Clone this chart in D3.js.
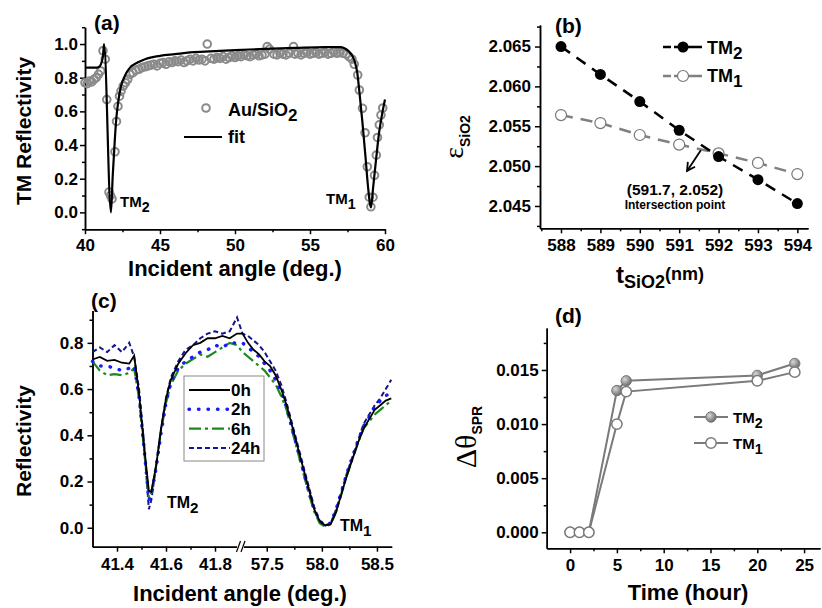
<!DOCTYPE html>
<html>
<head>
<meta charset="utf-8">
<script src="https://cdn.jsdelivr.net/npm/d3@7"></script>
<style>
  body { margin: 0; background: #fff; }
  svg text { font-family: "Liberation Sans", Arial, sans-serif; font-weight: bold; fill: #000; }
  .axis path, .axis line { stroke: #000; stroke-width: 1.5; }
  .axis text { font-size: 17px; font-weight: bold; font-family: "Liberation Sans", Arial, sans-serif; }
</style>
</head>
<body>
<div id="chart"></div>
<script>
// ---- (a) TM reflectivity, Au/SiO2 measured points and fit ----
var aAngle = [40.0, 40.15, 40.3, 40.45, 40.6, 40.75, 40.9, 41.05, 41.2, 41.35, 41.45, 41.6, 41.7, 41.8,
  42.0, 42.1, 42.2, 42.3, 42.4, 42.55, 42.7, 42.85,
  43.0, 43.2, 43.4, 43.6, 43.8, 44.0, 44.2, 44.4, 44.6, 44.8, 45.0, 45.2, 45.4, 45.6, 45.8,
  46.0, 46.2, 46.4, 46.6, 46.8, 47.0, 47.2, 47.4, 47.6, 47.8, 48.0, 48.15, 48.4, 48.6, 48.8,
  49.0, 49.2, 49.4, 49.6, 49.8, 50.0, 50.2, 50.4, 50.6, 50.8, 51.0, 51.2, 51.4, 51.6, 51.8,
  52.0, 52.15, 52.3, 52.6, 52.8, 53.0, 53.2, 53.4, 53.6, 53.9, 54.0, 54.2, 54.4, 54.6, 54.8,
  55.0, 55.2, 55.4, 55.6, 55.8, 56.0, 56.2, 56.4, 56.6, 56.8, 57.0, 57.2, 57.4, 57.6, 57.8,
  57.95, 58.18, 58.29, 58.5, 58.67, 58.82, 58.95, 59.06, 59.2, 59.3, 59.42, 59.5, 59.62, 59.73, 59.85];
var aRefl = [0.77, 0.765, 0.78, 0.775, 0.79, 0.80, 0.82, 0.84, 0.96, 0.91, 0.67, 0.12, 0.10, 0.08,
  0.36, 0.54, 0.63, 0.69, 0.72, 0.75, 0.77, 0.79,
  0.82, 0.83, 0.845, 0.85, 0.86, 0.865, 0.87, 0.875, 0.88, 0.87, 0.885, 0.89, 0.88, 0.895, 0.89,
  0.90, 0.895, 0.905, 0.89, 0.90, 0.91, 0.90, 0.915, 0.905, 0.91, 0.90, 1.0, 0.915, 0.91, 0.92,
  0.915, 0.925, 0.91, 0.92, 0.93, 0.92, 0.93, 0.925, 0.935, 0.93, 0.925, 0.935, 0.94, 0.93, 0.935,
  0.94, 0.985, 0.97, 0.94, 0.935, 0.945, 0.94, 0.935, 0.945, 0.985, 0.94, 0.945, 0.935, 0.945, 0.95,
  0.94, 0.945, 0.95, 0.94, 0.945, 0.95, 0.94, 0.945, 0.955, 0.945, 0.95, 0.945, 0.94, 0.925, 0.91,
  0.88, 0.816, 0.727, 0.618, 0.473, 0.271, 0.09, 0.033, 0.09, 0.22, 0.34, 0.445, 0.52, 0.578, 0.62];
var fitAngle = [40.0, 40.5, 40.8, 41.0, 41.1, 41.2, 41.27, 41.73, 41.85, 42.0, 42.1, 42.22, 42.4, 42.6,
  42.8, 43.0, 43.5, 44.0, 45.0, 46.0, 47.0, 48.0, 50.0, 52.0, 54.0, 56.0, 57.0, 57.3, 57.6, 57.85,
  58.0, 58.15, 58.3, 58.5, 58.7, 58.85, 59.0, 59.07, 59.2, 59.4, 59.6, 59.8, 60.0];
var fitRefl = [0.86, 0.86, 0.86, 0.87, 0.89, 0.93, 1.0, 0.0, 0.22, 0.45, 0.57, 0.66, 0.75, 0.80,
  0.835, 0.86, 0.89, 0.91, 0.93, 0.94, 0.95, 0.955, 0.964, 0.971, 0.977, 0.982, 0.982, 0.975, 0.955, 0.925,
  0.89, 0.83, 0.71, 0.53, 0.33, 0.17, 0.05, 0.03, 0.14, 0.31, 0.47, 0.58, 0.67];

// ---- (b) permittivity vs SiO2 thickness ----
var bThick = [588, 589, 590, 591, 592, 593, 594];
var bTM2 = [2.0650, 2.0615, 2.0581, 2.0545, 2.0512, 2.0483, 2.0453];
var bTM1 = [2.0564, 2.0554, 2.0539, 2.0527, 2.0516, 2.0504, 2.0490];
var bArrow = [[591.55, 2.0520], [591.2, 2.0494]];

// ---- (c) reflectivity over time ----
var cAngle = [41.30, 41.33, 41.36, 41.39, 41.42, 41.45, 41.47, 41.49, 41.51, 41.53, 41.54, 41.56, 41.58, 41.60,
  41.62, 41.65, 41.68, 41.71, 41.74, 41.77, 41.80, 41.83, 41.86, 41.89,
  57.28, 57.33, 57.38, 57.43, 57.48, 57.53, 57.58, 57.63, 57.68, 57.73, 57.78, 57.83, 57.88, 57.93,
  57.98, 58.03, 58.08, 58.13, 58.18, 58.23, 58.28, 58.33, 58.38, 58.43, 58.48, 58.53, 58.58, 58.63];
var c0h = [0.728, 0.739, 0.722, 0.726, 0.714, 0.710, 0.745, 0.58, 0.36, 0.16, 0.155, 0.27, 0.43, 0.56,
  0.64, 0.71, 0.755, 0.79, 0.80, 0.82, 0.82, 0.83, 0.82, 0.84,
  0.84, 0.80, 0.77, 0.75, 0.72, 0.70, 0.66, 0.60, 0.53, 0.44, 0.35, 0.26, 0.17, 0.08,
  0.03, 0.01, 0.015, 0.07, 0.15, 0.23, 0.30, 0.37, 0.43, 0.47, 0.51, 0.53, 0.55, 0.56];
var c2h = [0.72, 0.70, 0.70, 0.69, 0.68, 0.69, 0.70, 0.57, 0.35, 0.12, 0.14, 0.26, 0.41, 0.54,
  0.63, 0.69, 0.72, 0.74, 0.76, 0.77, 0.79, 0.78, 0.80, 0.80,
  0.80, 0.78, 0.76, 0.74, 0.71, 0.68, 0.64, 0.59, 0.52, 0.43, 0.34, 0.25, 0.16, 0.08,
  0.03, 0.01, 0.02, 0.08, 0.16, 0.24, 0.31, 0.38, 0.44, 0.48, 0.52, 0.55, 0.57, 0.59];
var c6h = [0.72, 0.68, 0.66, 0.665, 0.66, 0.67, 0.69, 0.56, 0.34, 0.13, 0.15, 0.27, 0.42, 0.54,
  0.62, 0.68, 0.71, 0.73, 0.75, 0.74, 0.76, 0.78, 0.80, 0.79,
  0.76, 0.74, 0.72, 0.70, 0.68, 0.65, 0.62, 0.57, 0.51, 0.42, 0.33, 0.24, 0.15, 0.07,
  0.02, 0.005, 0.015, 0.07, 0.15, 0.23, 0.30, 0.37, 0.43, 0.46, 0.49, 0.51, 0.53, 0.55];
var c24h = [0.76, 0.78, 0.76, 0.79, 0.76, 0.80, 0.74, 0.60, 0.37, 0.08, 0.12, 0.27, 0.43, 0.56,
  0.65, 0.72, 0.77, 0.79, 0.82, 0.84, 0.85, 0.84, 0.85, 0.91,
  0.84, 0.83, 0.81, 0.79, 0.76, 0.72, 0.68, 0.62, 0.54, 0.45, 0.36, 0.27, 0.18, 0.09,
  0.03, 0.01, 0.02, 0.08, 0.16, 0.24, 0.31, 0.38, 0.45, 0.49, 0.53, 0.56, 0.60, 0.64];
var cLabels = ["0h", "2h", "6h", "24h"];

// ---- (d) SPR angle shift vs time ----
var dTime = [0, 1, 2, 5, 6, 20, 24];
var dTM2 = [0, 0, 0, 0.0131, 0.0140, 0.0145, 0.0156];
var dTM1 = [0, 0, 0, 0.0100, 0.0130, 0.0140, 0.0148];

var svg = d3.select("#chart").append("svg")
  .attr("width", 822)
  .attr("height", 608);

var defs = svg.append("defs");
var grad = defs.append("radialGradient").attr("id", "ball").attr("cx", "35%").attr("cy", "35%").attr("r", "65%");
grad.append("stop").attr("offset", "0%").attr("stop-color", "#d8d8d8");
grad.append("stop").attr("offset", "100%").attr("stop-color", "#6e6e6e");

// left + bottom axes, major ticks labelled, minor ticks blank
function drawAxes(x, y, o) {
  var yb = y.range()[0], xl = x.range()[0];
  var gx = svg.append("g").attr("class", "axis").attr("transform", "translate(0," + yb + ")");
  gx.call(d3.axisBottom(x).tickValues(o.xMinor).tickSize(3).tickSizeOuter(0).tickFormat(""));
  gx.append("g").call(d3.axisBottom(x).tickValues(o.xMajor).tickSize(5).tickSizeOuter(0)
    .tickPadding(o.xPad).tickFormat(o.xFmt));
  var gy = svg.append("g").attr("class", "axis").attr("transform", "translate(" + xl + ",0)");
  gy.call(d3.axisLeft(y).tickValues(o.yMinor).tickSize(3).tickSizeOuter(0).tickFormat(""));
  gy.append("g").call(d3.axisLeft(y).tickValues(o.yMajor).tickSize(5).tickSizeOuter(0)
    .tickPadding(o.yPad).tickFormat(o.yFmt));
}

// "TM" with subscript
function tmLabel(x, y, sub, size, color) {
  var t = svg.append("text").attr("x", x).attr("y", y).style("font-size", size + "px")
    .style("fill", color || "#000");
  t.append("tspan").text("TM");
  t.append("tspan").attr("dy", size * 0.3).style("font-size", (size * 0.95) + "px").text(sub);
  return t;
}

function panelLabel(x, y, s) {
  svg.append("text").attr("x", x).attr("y", y).style("font-size", "21px").text(s);
}

//================ (a) ================
var xa = d3.scaleLinear().domain([40, 60]).range([85, 385]);
var ya = d3.scaleLinear().domain([-0.1, 1.1]).range([229.2, 27.2]);
drawAxes(xa, ya, {
  xMajor: [40, 45, 50, 55, 60], xMinor: [42.5, 47.5, 52.5, 57.5], xFmt: d3.format("d"), xPad: 5,
  yMajor: [0, 0.2, 0.4, 0.6, 0.8, 1.0], yMinor: [-0.1, 0.1, 0.3, 0.5, 0.7, 0.9, 1.1], yFmt: d3.format(".1f"), yPad: 2
});
svg.append("g").selectAll("circle")
  .data(aAngle.map(function(d, i) { return [d, aRefl[i]]; }))
  .enter().append("circle")
  .attr("cx", function(d) { return xa(d[0]); })
  .attr("cy", function(d) { return ya(d[1]); })
  .attr("r", 3.8)
  .attr("fill", "none")
  .attr("stroke", "#8a8a8a")
  .attr("stroke-width", 2);
svg.append("path")
  .datum(fitAngle.map(function(d, i) { return [d, fitRefl[i]]; }))
  .attr("d", d3.line().x(function(d) { return xa(d[0]); }).y(function(d) { return ya(d[1]); })
    .curve(d3.curveMonotoneX))
  .attr("fill", "none").attr("stroke", "#000").attr("stroke-width", 2.2);
// legend (a)
svg.append("circle").attr("cx", 206).attr("cy", 108).attr("r", 3.8)
  .attr("fill", "none").attr("stroke", "#8a8a8a").attr("stroke-width", 2);
var la = svg.append("text").attr("x", 228).attr("y", 116).style("font-size", "18px");
la.append("tspan").text("Au/SiO");
la.append("tspan").attr("dy", 5).style("font-size", "17px").text("2");
svg.append("line").attr("x1", 184).attr("x2", 222).attr("y1", 137).attr("y2", 137)
  .attr("stroke", "#000").attr("stroke-width", 2.2);
svg.append("text").attr("x", 228).attr("y", 143).style("font-size", "18px").text("fit");
tmLabel(120, 207, "2", 15);
tmLabel(326, 204, "1", 15);
svg.append("text").attr("transform", "translate(31,131) rotate(-90)")
  .attr("text-anchor", "middle").style("font-size", "21px").text("TM Reflectivity");
svg.append("text").attr("x", 235).attr("y", 276).attr("text-anchor", "middle")
  .style("font-size", "22px").text("Incident angle (deg.)");
panelLabel(94, 30, "(a)");

//================ (b) ================
var xb = d3.scaleLinear().domain([587.467, 594.27]).range([540, 808]);
var yb = d3.scaleLinear().domain([2.0422, 2.0677]).range([228.3, 25]);
drawAxes(xb, yb, {
  xMajor: bThick, xMinor: [587.5, 588.5, 589.5, 590.5, 591.5, 592.5, 593.5], xFmt: d3.format("d"), xPad: 6,
  yMajor: [2.045, 2.05, 2.055, 2.06, 2.065], yMinor: [2.0425, 2.0475, 2.0525, 2.0575, 2.0625, 2.0675],
  yFmt: d3.format(".3f"), yPad: 4
});
var lineB = d3.line().x(function(d) { return xb(d[0]); }).y(function(d) { return yb(d[1]); });
var b2 = bThick.map(function(d, i) { return [d, bTM2[i]]; });
var b1 = bThick.map(function(d, i) { return [d, bTM1[i]]; });
svg.append("path").datum(b1).attr("d", lineB).attr("fill", "none")
  .attr("stroke", "#808080").attr("stroke-width", 2.5).attr("stroke-dasharray", "12 8");
svg.append("path").datum(b2).attr("d", lineB).attr("fill", "none")
  .attr("stroke", "#000").attr("stroke-width", 2.5).attr("stroke-dasharray", "11 8");
svg.append("g").selectAll("circle").data(b1).enter().append("circle")
  .attr("cx", function(d) { return xb(d[0]); }).attr("cy", function(d) { return yb(d[1]); })
  .attr("r", 5.5).attr("fill", "#fff").attr("stroke", "#777").attr("stroke-width", 1.2);
svg.append("g").selectAll("circle").data(b2).enter().append("circle")
  .attr("cx", function(d) { return xb(d[0]); }).attr("cy", function(d) { return yb(d[1]); })
  .attr("r", 5.5).attr("fill", "#000");
// legend (b)
svg.append("line").attr("x1", 663).attr("x2", 702).attr("y1", 47).attr("y2", 47)
  .attr("stroke", "#000").attr("stroke-width", 2.5).attr("stroke-dasharray", "8 3 30");
svg.append("circle").attr("cx", 683).attr("cy", 47).attr("r", 5.5).attr("fill", "#000");
tmLabel(707, 54, "2", 18);
svg.append("line").attr("x1", 663).attr("x2", 702).attr("y1", 76).attr("y2", 76)
  .attr("stroke", "#808080").attr("stroke-width", 2.5).attr("stroke-dasharray", "8 3 30");
svg.append("circle").attr("cx", 683).attr("cy", 76).attr("r", 5.5)
  .attr("fill", "#fff").attr("stroke", "#777").attr("stroke-width", 1.2);
tmLabel(707, 82, "1", 18);
// intersection arrow
var a0 = [xb(bArrow[0][0]), yb(bArrow[0][1])], a1 = [xb(bArrow[1][0]), yb(bArrow[1][1])];
svg.append("line").attr("x1", a0[0]).attr("y1", a0[1]).attr("x2", a1[0]).attr("y2", a1[1])
  .attr("stroke", "#000").attr("stroke-width", 1.8);
var ang = Math.atan2(a1[1] - a0[1], a1[0] - a0[0]);
var hl = 9;
svg.append("path")
  .attr("d", "M" + (a1[0] - hl * Math.cos(ang - 0.5)) + "," + (a1[1] - hl * Math.sin(ang - 0.5)) +
    "L" + a1[0] + "," + a1[1] +
    "L" + (a1[0] - hl * Math.cos(ang + 0.5)) + "," + (a1[1] - hl * Math.sin(ang + 0.5)))
  .attr("fill", "none").attr("stroke", "#000").attr("stroke-width", 1.8);
svg.append("text").attr("x", 675).attr("y", 195).attr("text-anchor", "middle")
  .style("font-size", "15.5px").text("(591.7, 2.052)");
svg.append("text").attr("x", 675).attr("y", 209).attr("text-anchor", "middle")
  .style("font-size", "12px").text("Intersection point");
var eb = svg.append("text").attr("transform", "translate(463,137) rotate(-90)").attr("text-anchor", "middle");
eb.append("tspan").style("font-family", "'Liberation Serif', 'Times New Roman', serif")
  .style("font-weight", "normal").style("font-size", "28px").text("\u03b5");
eb.append("tspan").attr("dy", 7).style("font-size", "14px").text("SiO2");
var tb = svg.append("text").attr("x", 660).attr("y", 283).attr("text-anchor", "middle");
tb.append("tspan").style("font-size", "24px").text("t");
tb.append("tspan").attr("dy", 5).style("font-size", "18px").text("SiO2");
tb.append("tspan").attr("dy", -8).style("font-size", "18px").text("(nm)");
panelLabel(555, 33, "(b)");

//================ (c) ================
var xc = d3.scaleLinear().domain([41.3, 41.9, 57.266, 58.634]).range([92.5, 239.5, 241, 391.7]);
var yc = d3.scaleLinear().domain([-0.082, 0.94]).range([546.7, 310.5]);
drawAxes(xc, yc, {
  xMajor: [41.4, 41.6, 41.8, 57.5, 58.0, 58.5], xMinor: [41.5, 41.7, 57.75, 58.25],
  xFmt: d3.format(".1f"), xPad: 6,
  yMajor: [0, 0.2, 0.4, 0.6, 0.8], yMinor: [0.1, 0.3, 0.5, 0.7, 0.9], yFmt: d3.format(".1f"), yPad: 4
});
// axis break mark
svg.append("rect").attr("x", 237).attr("y", 543).attr("width", 7).attr("height", 8).attr("fill", "#fff");
[236.5, 241].forEach(function(bx) {
  svg.append("line").attr("x1", bx).attr("y1", 552).attr("x2", bx + 4).attr("y2", 541)
    .attr("stroke", "#000").attr("stroke-width", 1.2);
});
var cStyles = [
  { v: c24h, color: "#14148c", w: 2, dash: "5 3", cap: "butt" },
  { v: c6h, color: "#1a8a1a", w: 2.2, dash: "12 4 3 4", cap: "butt" },
  { v: c2h, color: "#1a1aff", w: 3.4, dash: "0.5 9", cap: "round" },
  { v: c0h, color: "#000", w: 1.8, dash: null, cap: "butt" }
];
var lineC = d3.line().x(function(d) { return xc(d[0]); }).y(function(d) { return yc(d[1]); });
cStyles.forEach(function(s) {
  svg.append("path").datum(cAngle.map(function(d, i) { return [d, s.v[i]]; }))
    .attr("d", lineC).attr("fill", "none").attr("stroke", s.color).attr("stroke-width", s.w)
    .attr("stroke-dasharray", s.dash).attr("stroke-linecap", s.cap);
});
// legend (c)
svg.append("rect").attr("x", 184).attr("y", 376).attr("width", 80).attr("height", 85)
  .attr("fill", "#fff").attr("stroke", "#888").attr("stroke-width", 1);
var legOrder = [c0h, c2h, c6h, c24h];
cLabels.forEach(function(lab, i) {
  var s = cStyles.filter(function(c) { return c.v === legOrder[i]; })[0];
  var ly = 390 + i * 19.3;
  svg.append("line").attr("x1", 189).attr("x2", 230).attr("y1", ly).attr("y2", ly)
    .attr("stroke", s.color).attr("stroke-width", s.w).attr("stroke-dasharray", s.dash)
    .attr("stroke-linecap", s.cap);
  svg.append("text").attr("x", 231).attr("y", ly + 6).style("font-size", "17px").text(lab);
});
tmLabel(167, 508, "2", 16);
tmLabel(340, 531, "1", 16);
svg.append("text").attr("transform", "translate(31,441) rotate(-90)")
  .attr("text-anchor", "middle").style("font-size", "21px").text("Reflectivity");
svg.append("text").attr("x", 240).attr("y", 601).attr("text-anchor", "middle")
  .style("font-size", "22px").text("Incident angle (deg.)");
panelLabel(91, 308, "(c)");

//================ (d) ================
var xd = d3.scaleLinear().domain([-2.5, 26.7]).range([546.7, 820]);
var yd = d3.scaleLinear().domain([-0.00148, 0.01888]).range([548.3, 328]);
drawAxes(xd, yd, {
  xMajor: [0, 5, 10, 15, 20, 25], xMinor: [2.5, 7.5, 12.5, 17.5, 22.5], xFmt: d3.format("d"), xPad: 6,
  yMajor: [0, 0.005, 0.01, 0.015], yMinor: [0.0025, 0.0075, 0.0125, 0.0175], yFmt: d3.format(".3f"), yPad: 3
});
var lineD = d3.line().x(function(d) { return xd(d[0]); }).y(function(d) { return yd(d[1]); });
var d2 = dTime.map(function(d, i) { return [d, dTM2[i]]; });
var d1 = dTime.map(function(d, i) { return [d, dTM1[i]]; });
[d2, d1].forEach(function(ser) {
  svg.append("path").datum(ser).attr("d", lineD).attr("fill", "none")
    .attr("stroke", "#7a7a7a").attr("stroke-width", 2);
});
svg.append("g").selectAll("circle").data(d2).enter().append("circle")
  .attr("cx", function(d) { return xd(d[0]); }).attr("cy", function(d) { return yd(d[1]); })
  .attr("r", 5.2).attr("fill", "url(#ball)").attr("stroke", "#777").attr("stroke-width", 1);
svg.append("g").selectAll("circle").data(d1).enter().append("circle")
  .attr("cx", function(d) { return xd(d[0]); }).attr("cy", function(d) { return yd(d[1]); })
  .attr("r", 5.2).attr("fill", "#fff").attr("stroke", "#7a7a7a").attr("stroke-width", 1.5);
// legend (d)
svg.append("line").attr("x1", 694).attr("x2", 728).attr("y1", 417).attr("y2", 417)
  .attr("stroke", "#7a7a7a").attr("stroke-width", 2);
svg.append("circle").attr("cx", 711).attr("cy", 417).attr("r", 5.2)
  .attr("fill", "url(#ball)").attr("stroke", "#777").attr("stroke-width", 1);
tmLabel(733, 423, "2", 15);
svg.append("line").attr("x1", 694).attr("x2", 728).attr("y1", 443).attr("y2", 443)
  .attr("stroke", "#7a7a7a").attr("stroke-width", 2);
svg.append("circle").attr("cx", 711).attr("cy", 443).attr("r", 5.2)
  .attr("fill", "#fff").attr("stroke", "#7a7a7a").attr("stroke-width", 1.5);
tmLabel(733, 449, "1", 15);
var td = svg.append("text").attr("transform", "translate(476,437) rotate(-90)").attr("text-anchor", "middle");
td.append("tspan").style("font-family", "'Liberation Serif', 'Times New Roman', serif")
  .style("font-weight", "normal").style("font-size", "30px").text("\u0394\u03b8");
td.append("tspan").attr("dy", 6).style("font-size", "14px").text("SPR");
svg.append("text").attr("x", 688).attr("y", 600).attr("text-anchor", "middle")
  .style("font-size", "22px").text("Time (hour)");
panelLabel(555, 323, "(d)");
</script>
</body>
</html>
